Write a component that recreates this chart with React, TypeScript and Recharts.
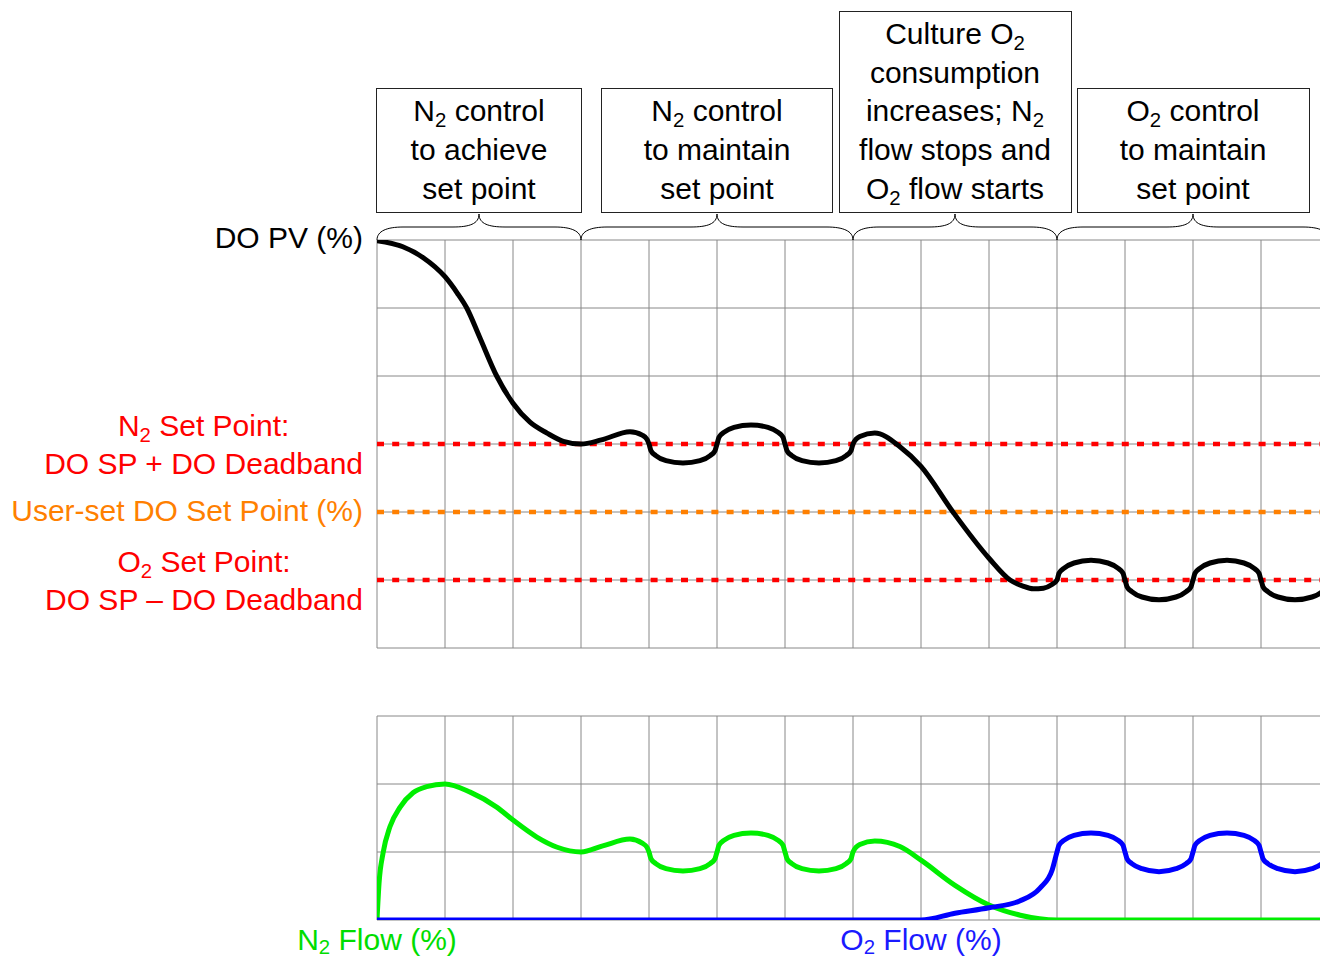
import React from "react";
import { LineChart, Line, XAxis, YAxis, CartesianGrid, ReferenceLine } from "recharts";

// time in grid columns, DO / flow in grid rows
const pvTime = [0, 0.38, 0.68, 1.0, 1.18, 1.32, 1.51, 1.76, 2.0, 2.25, 2.5, 2.74, 3.0, 3.3, 3.72, 3.9, 3.97, 4.0, 4.03, 4.1, 4.25, 4.5, 4.75, 4.9, 4.97, 5.0, 5.03, 5.1, 5.25, 5.5, 5.75, 5.9, 5.97, 6.0, 6.03, 6.1, 6.25, 6.5, 6.75, 6.9, 6.97, 7.0, 7.1, 7.32, 7.69, 8.0, 8.47, 9.0, 9.31, 9.5, 9.65, 9.8, 9.92, 10.0, 10.03, 10.1, 10.25, 10.5, 10.75, 10.9, 10.97, 11.0, 11.03, 11.1, 11.25, 11.5, 11.75, 11.9, 11.97, 12.0, 12.03, 12.1, 12.25, 12.5, 12.75, 12.9, 12.97, 13.0, 13.03, 13.1, 13.25, 13.5, 13.75, 13.9, 13.97, 14.0];
const pvValue = [5.99, 5.9, 5.74, 5.46, 5.22, 5.0, 4.57, 4.0, 3.6, 3.32, 3.16, 3.04, 3.0, 3.06, 3.18, 3.13, 3.07, 3.0, 2.9, 2.83, 2.755, 2.72, 2.755, 2.83, 2.9, 3.0, 3.1, 3.17, 3.245, 3.28, 3.245, 3.17, 3.1, 3.0, 2.9, 2.83, 2.755, 2.72, 2.755, 2.83, 2.9, 3.0, 3.11, 3.16, 2.96, 2.67, 2.0, 1.32, 1.0, 0.91, 0.87, 0.88, 0.93, 1.0, 1.1, 1.17, 1.25, 1.29, 1.25, 1.17, 1.1, 1.0, 0.9, 0.83, 0.75, 0.71, 0.75, 0.83, 0.9, 1.0, 1.1, 1.17, 1.25, 1.29, 1.25, 1.17, 1.1, 1.0, 0.9, 0.83, 0.75, 0.71, 0.75, 0.83, 0.9, 1.0];

const n2Time = [0, 0.03, 0.09, 0.19, 0.34, 0.53, 0.73, 1.0, 1.37, 1.76, 2.0, 2.35, 2.65, 3.0, 3.32, 3.72, 3.9, 3.97, 4.0, 4.03, 4.1, 4.25, 4.5, 4.75, 4.9, 4.97, 5.0, 5.03, 5.1, 5.25, 5.5, 5.75, 5.9, 5.97, 6.0, 6.03, 6.1, 6.25, 6.5, 6.75, 6.9, 6.97, 7.0, 7.1, 7.32, 7.69, 8.0, 8.5, 9.0, 9.46, 10.0, 14.0];
const n2Flow = [0, 0.54, 0.99, 1.37, 1.66, 1.87, 1.96, 2.0, 1.88, 1.66, 1.47, 1.22, 1.07, 1.0, 1.09, 1.19, 1.13, 1.07, 1.0, 0.9, 0.83, 0.755, 0.72, 0.755, 0.83, 0.9, 1.0, 1.1, 1.17, 1.245, 1.28, 1.245, 1.17, 1.1, 1.0, 0.9, 0.83, 0.755, 0.72, 0.755, 0.83, 0.9, 1.0, 1.11, 1.16, 1.08, 0.88, 0.51, 0.22, 0.07, 0, 0];

const o2Time = [0, 8.0, 8.5, 9.0, 9.45, 9.75, 9.93, 10.0, 10.03, 10.1, 10.25, 10.5, 10.75, 10.9, 10.97, 11.0, 11.03, 11.1, 11.25, 11.5, 11.75, 11.9, 11.97, 12.0, 12.03, 12.1, 12.25, 12.5, 12.75, 12.9, 12.97, 13.0, 13.03, 13.1, 13.25, 13.5, 13.75, 13.9, 13.97, 14.0];
const o2Flow = [0, 0, 0.1, 0.18, 0.28, 0.47, 0.74, 1.0, 1.1, 1.17, 1.245, 1.28, 1.245, 1.17, 1.1, 1.0, 0.9, 0.83, 0.755, 0.71, 0.755, 0.83, 0.9, 1.0, 1.1, 1.17, 1.245, 1.28, 1.245, 1.17, 1.1, 1.0, 0.9, 0.83, 0.755, 0.71, 0.755, 0.83, 0.9, 1.0];

const setPoints = [3, 2, 1];
const setPointColors = ["#ff0000", "#ff8000", "#ff0000"];

const timeTicks = [0, 1, 2, 3, 4, 5, 6, 7, 8, 9, 10, 11, 12, 13, 14];
const doTicks = [0, 1, 2, 3, 4, 5, 6];
const flowTicks = [0, 1, 2, 3];

// phase boundaries (columns) and the box above each phase
const phaseBounds = [0, 3, 7, 10, 14];
const phaseLabels = [
  ["N_2 control", "to achieve", "set point"],
  ["N_2 control", "to maintain", "set point"],
  ["Culture O_2", "consumption", "increases; N_2", "flow stops and", "O_2 flow starts"],
  ["O_2 control", "to maintain", "set point"],
];
const boxWidths = [206, 232, 233, 233];

const pvData = pvTime.map((t, i) => ({ t, v: pvValue[i] }));
const n2Data = n2Time.map((t, i) => ({ t, v: n2Flow[i] }));
const o2Data = o2Time.map((t, i) => ({ t, v: o2Flow[i] }));

const X0 = 377;
const COL = 68;
const TOP_Y = 240;
const BOT_Y = 716;
const M = 10;
const colX = (u: number) => X0 + COL * u;

const FONT = '"Liberation Sans", Arial, Helvetica, sans-serif';
const subStyle: React.CSSProperties = { fontSize: "0.68em", verticalAlign: "-0.3em", lineHeight: 0 };
const lowSubStyle: React.CSSProperties = { ...subStyle, verticalAlign: "-0.22em" };

const Chem = ({ text, low }: { text: string; low?: boolean }) => {
  const parts = text.split("_2");
  return (
    <>
      {parts.map((p, i) => (
        <React.Fragment key={i}>
          {i > 0 && <sub style={low ? lowSubStyle : subStyle}>2</sub>}
          {p}
        </React.Fragment>
      ))}
    </>
  );
};

const bracePath = (a: number, b: number) => {
  const x0 = colX(a);
  const x1 = colX(b);
  const xm = (x0 + x1) / 2;
  const yb = 240, yf = 227, yt = 214;
  return `M ${x0} ${yb} C ${x0} ${yb - 9}, ${x0 + 10} ${yf}, ${x0 + 26} ${yf} L ${xm - 26} ${yf} C ${xm - 10} ${yf}, ${xm} ${yf - 3}, ${xm} ${yt} C ${xm} ${yf - 3}, ${xm + 10} ${yf}, ${xm + 26} ${yf} L ${x1 - 26} ${yf} C ${x1 - 10} ${yf}, ${x1} ${yb - 9}, ${x1} ${yb}`;
};

const label = (style: React.CSSProperties, content: React.ReactNode) => (
  <div style={{ position: "absolute", fontSize: 30, whiteSpace: "nowrap", ...style }}>{content}</div>
);

export default function App() {
  const chartW = 14 * COL + 2 * M;
  return (
    <div style={{ position: "absolute", left: 0, top: 0, width: 1320, height: 962, overflow: "hidden", background: "#fff", fontFamily: FONT, color: "#000" }}>
      <div style={{ position: "absolute", left: X0 - M, top: TOP_Y - M }}>
        <LineChart width={chartW} height={6 * COL + 2 * M} margin={{ top: M, right: M, bottom: M, left: M }}>
          <CartesianGrid stroke="#888" strokeWidth={1} />
          <XAxis type="number" dataKey="t" domain={[0, 14]} ticks={timeTicks} hide allowDataOverflow />
          <YAxis type="number" domain={[0, 6]} ticks={doTicks} hide allowDataOverflow />
          {setPoints.map((y, i) => (
            <ReferenceLine key={i} y={y} stroke={setPointColors[i]} strokeWidth={4.5} strokeDasharray="7 8.2" />
          ))}
          <Line data={pvData} dataKey="v" type="monotone" stroke="#000" strokeWidth={5} dot={false} isAnimationActive={false} />
        </LineChart>
      </div>

      <div style={{ position: "absolute", left: X0 - M, top: BOT_Y - M }}>
        <LineChart width={chartW} height={3 * COL + 2 * M} margin={{ top: M, right: M, bottom: M, left: M }}>
          <CartesianGrid stroke="#888" strokeWidth={1} />
          <XAxis type="number" dataKey="t" domain={[0, 14]} ticks={timeTicks} hide allowDataOverflow />
          <YAxis type="number" domain={[0, 3]} ticks={flowTicks} hide allowDataOverflow />
          <Line data={n2Data} dataKey="v" type="monotone" stroke="#00ee00" strokeWidth={5} dot={false} isAnimationActive={false} />
          <Line data={o2Data} dataKey="v" type="monotone" stroke="#0000ff" strokeWidth={5} dot={false} isAnimationActive={false} />
        </LineChart>
      </div>

      <svg width={1320} height={250} style={{ position: "absolute", left: 0, top: 0 }}>
        {phaseLabels.map((_, i) => (
          <path key={i} d={bracePath(phaseBounds[i], phaseBounds[i + 1])} fill="none" stroke="#000" strokeWidth={1} />
        ))}
      </svg>

      {phaseLabels.map((lines, i) => {
        const cx = (colX(phaseBounds[i]) + colX(phaseBounds[i + 1])) / 2;
        const w = boxWidths[i];
        const h = lines.length * 38.7 + 9;
        return (
          <div
            key={i}
            style={{
              position: "absolute",
              left: cx - w / 2,
              top: 213 - h,
              width: w,
              height: h,
              boxSizing: "border-box",
              border: "1px solid #222",
              display: "flex",
              flexDirection: "column",
              justifyContent: "center",
              alignItems: "center",
              fontSize: 30,
              lineHeight: "38.7px",
              background: "#fff",
            }}
          >
            {lines.map((l, j) => (
              <div key={j} style={{ whiteSpace: "nowrap" }}>
                <Chem text={l} />
              </div>
            ))}
          </div>
        );
      })}

      {label({ right: 1320 - 363, top: 219, lineHeight: "38px" }, "DO PV (%)")}
      {label(
        { right: 1320 - 363, top: 407, lineHeight: "37.5px", textAlign: "center", color: "#ff0000" },
        <>
          <div><Chem text="N_2 Set Point:" /></div>
          <div>DO SP + DO Deadband</div>
        </>
      )}
      {label({ right: 1320 - 363, top: 492, lineHeight: "38px", color: "#ff8000" }, "User-set DO Set Point (%)")}
      {label(
        { right: 1320 - 363, top: 543, lineHeight: "37.5px", textAlign: "center", color: "#ff0000" },
        <>
          <div><Chem text="O_2 Set Point:" /></div>
          <div>DO SP – DO Deadband</div>
        </>
      )}
      {label({ left: colX(0) - 150, width: 300, top: 925, lineHeight: "30px", textAlign: "center", color: "#00dd00" }, <Chem text="N_2 Flow (%)" low />)}
      {label({ left: colX(8) - 150, width: 300, top: 925, lineHeight: "30px", textAlign: "center", color: "#1a1aff" }, <Chem text="O_2 Flow (%)" low />)}
    </div>
  );
}
